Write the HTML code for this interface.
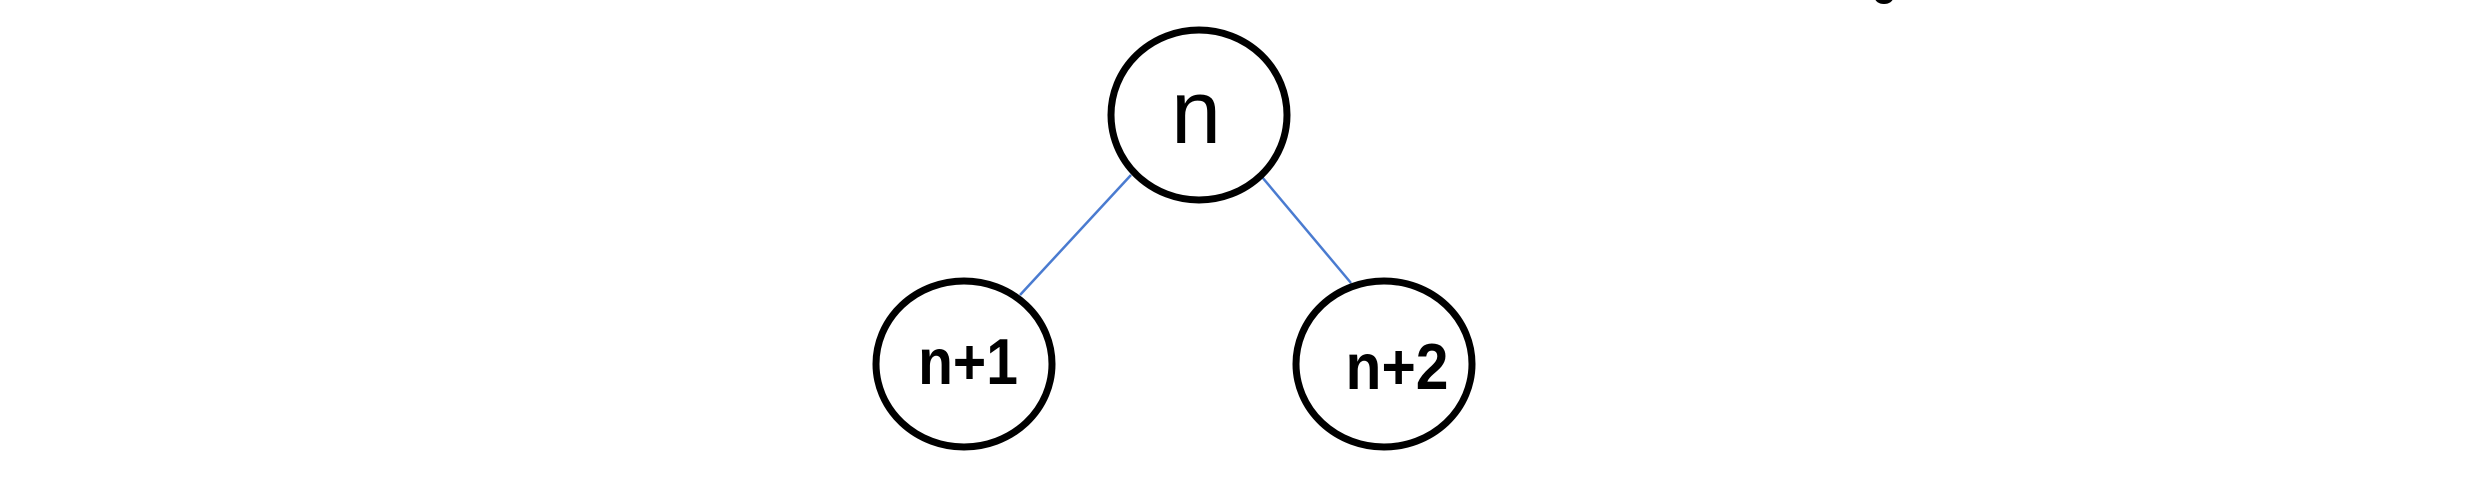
<!DOCTYPE html>
<html><head><style>
html,body{margin:0;padding:0;background:#fff;}
svg{display:block;}
</style></head><body>
<svg width="2477" height="494" viewBox="0 0 2477 494" xmlns="http://www.w3.org/2000/svg">
<rect width="2477" height="494" fill="#fff"/>
<ellipse cx="1884" cy="-2" rx="9" ry="6" fill="#000"/>
<line x1="1131" y1="175" x2="1020" y2="295" stroke="#4a7bd0" stroke-width="2.5"/>
<line x1="1262" y1="177" x2="1351" y2="283" stroke="#4a7bd0" stroke-width="2.5"/>
<ellipse cx="1199" cy="115" rx="88" ry="85" fill="none" stroke="#000" stroke-width="7"/>
<ellipse cx="964" cy="364" rx="88" ry="83" fill="none" stroke="#000" stroke-width="7"/>
<ellipse cx="1384" cy="364" rx="88" ry="83" fill="none" stroke="#000" stroke-width="7"/>
<text x="1196" y="143" font-family="Liberation Sans, sans-serif" font-size="90" text-anchor="middle" fill="#000">n</text>
<g transform="translate(968,384) scale(0.95,1.08)">
<text x="0" y="0" font-family="Liberation Sans, sans-serif" font-size="60" font-weight="bold" text-anchor="middle" fill="#000">n+1</text>
</g>
<g transform="translate(1397,389) scale(0.98,1.08)">
<text x="0" y="0" font-family="Liberation Sans, sans-serif" font-size="60" font-weight="bold" text-anchor="middle" fill="#000">n+2</text>
</g>
</svg>
</body></html>
